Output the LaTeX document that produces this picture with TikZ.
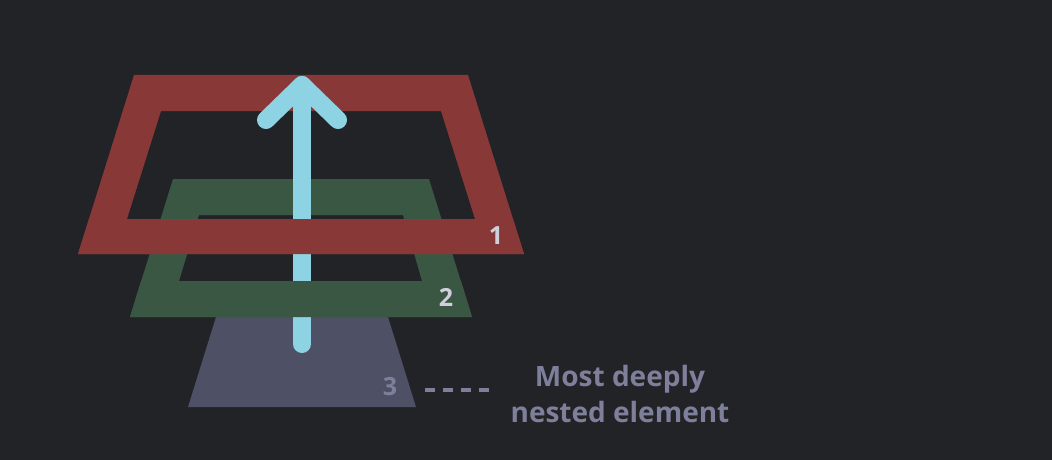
\documentclass[tikz,border=0pt]{standalone}
\usepackage{fontspec}
\setmainfont{Open Sans}
\usepackage{tikz}
\usetikzlibrary{calc}
\definecolor{bgdark}{RGB}{34,35,39}
\definecolor{layerred}{RGB}{137,56,56}
\definecolor{layergreen}{RGB}{58,87,68}
\definecolor{layerslate}{RGB}{78,80,102}
\definecolor{bubblecyan}{RGB}{142,211,227}
\definecolor{numlight}{RGB}{208,208,220}
\definecolor{notegray}{RGB}{126,127,154}
\tikzset{
  ring/.style={
    even odd rule,
    draw=none
  },
  bubble/.style={
    draw=bubblecyan,
    line width=18pt,
    line cap=round,
    line join=round
  },
  num/.style={
    font=\bfseries\fontsize{25}{25}\selectfont,
    inner sep=0pt
  },
  note/.style={
    text=notegray,
    align=center,
    font=\bfseries\fontsize{28}{36}\selectfont,
    inner sep=0pt
  },
  leader/.style={
    notegray,
    line width=4pt,
    dash pattern=on 10pt off 8pt
  }
}

\begin{document}
\begin{tikzpicture}[x=1pt,y=-1pt]
\fill[bgdark] (0,0) rectangle (1052,460);
\useasboundingbox (0,0) rectangle (1052,460);
% innermost element
\fill[layerslate] (216,317) -- (388,317) -- (416,407) -- (188,407) -- cycle;
% layers 2 and 1
\fill[layergreen,ring] (173,179) -- (429,179) -- (472,317) -- (130,317) -- cycle
  (199,215) -- (403,215) -- (422,281) -- (179,281) -- cycle;
\fill[layerred,ring] (134,75) -- (468,75) -- (524,254) -- (78,254) -- cycle
  (161,111) -- (441,111) -- (475,219) -- (127,219) -- cycle;
% bubbling arrow
\coordinate (start) at (302,344);
\coordinate (tip) at (302,85);
\coordinate (wingL) at (266,120);
\coordinate (wingR) at (338,120);
\draw[bubble] (start) -- (tip);
\draw[bubble] (wingL) -- (tip) -- (wingR);
% front edges go over the arrow
\fill[layergreen] (141,281) -- (461,281) -- (472,317) -- (130,317) -- cycle;
\fill[layerred] (89,219) -- (513,219) -- (524,254) -- (78,254) -- cycle;
\node[num,text=numlight] (n1) at (496,236) {1};
\node[num,text=numlight] (n2) at (446,297) {2};
\node[num,text=notegray] (n3) at (390,387) {3};
\node[note] (label) at (620,394) {Most deeply\\nested element};
\coordinate (leadA) at (425,390);
\coordinate (leadB) at (489,390);
\draw[leader] (leadA) -- (leadB);
\end{tikzpicture}
\end{document}
